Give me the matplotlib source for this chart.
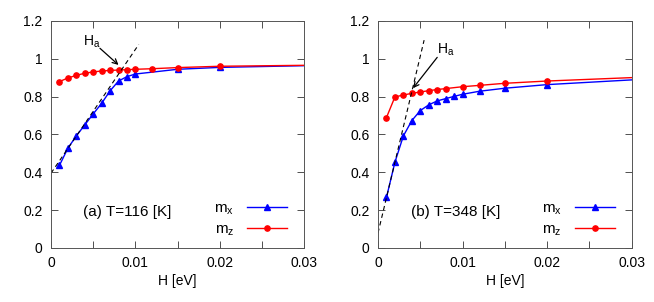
import matplotlib.pyplot as plt
from matplotlib.ticker import MultipleLocator, FuncFormatter

plt.rcParams['font.family'] = ['Liberation Sans', 'DejaVu Sans']
plt.rcParams['font.size'] = 10

# panel (a) T=116 K
h_mx_a = [0.001, 0.002, 0.003, 0.004, 0.005, 0.006, 0.007, 0.008, 0.009, 0.010, 0.015, 0.020, 0.030]
mx_a = [0.436, 0.527, 0.592, 0.650, 0.708, 0.764, 0.830, 0.882, 0.905, 0.919, 0.944, 0.954, 0.963]
h_mz_a = [0.001, 0.002, 0.003, 0.004, 0.005, 0.006, 0.007, 0.008, 0.009, 0.010, 0.012, 0.015, 0.020, 0.030]
mz_a = [0.879, 0.898, 0.912, 0.923, 0.930, 0.935, 0.938, 0.940, 0.942, 0.944, 0.947, 0.953, 0.960, 0.965]

# panel (b) T=348 K
h_mx_b = [0.001, 0.002, 0.003, 0.004, 0.005, 0.006, 0.007, 0.008, 0.009, 0.010, 0.012, 0.015, 0.020, 0.030]
mx_b = [0.267, 0.453, 0.592, 0.673, 0.726, 0.756, 0.777, 0.789, 0.801, 0.812, 0.828, 0.844, 0.863, 0.888]
h_mz_b = [0.001, 0.002, 0.003, 0.004, 0.005, 0.006, 0.007, 0.008, 0.010, 0.012, 0.015, 0.020, 0.030]
mz_b = [0.689, 0.798, 0.808, 0.817, 0.824, 0.831, 0.837, 0.842, 0.852, 0.859, 0.870, 0.882, 0.900]

# dashed guide lines (x values, y values)
guide_a = ([0.0, 0.0104], [0.395, 1.075])
guide_b = ([0.0, 0.00545], [0.079, 1.098])

# H_a arrows: text position, arrow tail, arrow head
arrow_a = ((0.0038, 1.09), (0.0058, 1.055), (0.0080, 0.967))
arrow_b = ((0.0070, 1.045), (0.0070, 1.007), (0.00414, 0.844))

panels = [
    ("(a) T=116 [K]", h_mx_a, mx_a, h_mz_a, mz_a, guide_a, arrow_a, [0.078, 0.179, 0.387, 0.752]),
    ("(b) T=348 [K]", h_mx_b, mx_b, h_mz_b, mz_b, guide_b, arrow_b, [0.578, 0.179, 0.388, 0.752]),
]

fig = plt.figure(figsize=(6.54, 3.02), dpi=100)

for label, hx, mx, hz, mz, guide, arrow, rect in panels:
    ax = fig.add_axes(rect)
    ax.plot(hx, mx, color='#0000ff', lw=1.0, marker='^', ms=4,
            markevery=slice(0, len(hx) - 1), label=r'm$_\mathregular{x}$')
    ax.plot(hz, mz, color='#ff0000', lw=1.0, marker='o', ms=3.8,
            markevery=slice(0, len(hz) - 1), label=r'm$_\mathregular{z}$')
    ax.plot(guide[0], guide[1], color='black', lw=0.8, ls=(0, (4, 3)))

    (tx, ty), tail, head = arrow
    ax.text(tx, ty, r'H$_\mathregular{a}$', ha='left', va='center', fontsize=10)
    ax.annotate('', xy=head, xytext=tail,
                arrowprops=dict(arrowstyle='->', color='black', lw=0.9,
                                mutation_scale=9, shrinkA=0, shrinkB=0))

    ax.text(0.00385, 0.188, label, ha='left', va='center', fontsize=11)

    ax.set_xlim(0, 0.03)
    ax.set_ylim(0, 1.2)
    ax.xaxis.set_major_locator(MultipleLocator(0.01))
    ax.xaxis.set_minor_locator(MultipleLocator(0.005))
    ax.yaxis.set_major_locator(MultipleLocator(0.2))
    ax.xaxis.set_major_formatter(FuncFormatter(lambda v, p: '0' if abs(v) < 1e-12 else f'{v:g}'))
    ax.yaxis.set_major_formatter(FuncFormatter(lambda v, p: f'{v:g}'))
    ax.tick_params(which='both', direction='in', top=True, right=True,
                   length=5, width=0.6, colors='#333333', labelcolor='black', labelsize=10, pad=6)
    for s in ax.spines.values():
        s.set_linewidth(0.7)
        s.set_color('#555555')
    ax.set_xlabel('H [eV]', fontsize=10, labelpad=3)

    ax.legend(loc='lower right', frameon=False, markerfirst=False, handlelength=2.6,
              fontsize=11, bbox_to_anchor=(0.933, 0.045), borderpad=0, borderaxespad=0,
              labelspacing=0.3, handletextpad=0.85)

fig.savefig('out.png', dpi=100)
